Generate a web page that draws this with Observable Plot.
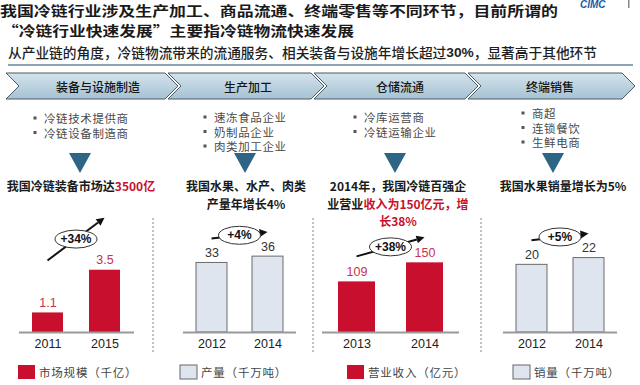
<!DOCTYPE html>
<html><head><meta charset="utf-8">
<script src="https://cdn.jsdelivr.net/npm/d3@7"></script>
<script src="https://cdn.jsdelivr.net/npm/@observablehq/plot@0.6"></script>
<style>
html,body{margin:0;padding:0;background:#fff;}
#root{position:relative;width:640px;height:385px;overflow:hidden;font-family:"Noto Sans CJK SC",sans-serif;}
.panel{position:absolute;}
</style></head>
<body><div id="root"></div>
<script>
// ---------- data ----------
const titleLines = ["我国冷链行业涉及生产加工、商品流通、终端零售等不同环节，目前所谓的", "“冷链行业快速发展”主要指冷链物流快速发展"];
const subtitleParts = [["从产业链的角度，冷链物流带来的流通服务、相关装备与设施年增长超过", 0], ["30%", 1], ["，显著高于其他环节", 0]];
const stages = ["装备与设施制造", "生产加工", "仓储流通", "终端销售"];
const stageBullets = [
  ["冷链技术提供商", "冷链设备制造商"],
  ["速冻食品企业", "奶制品企业", "肉类加工企业"],
  ["冷库运营商", "冷链运输企业"],
  ["商超", "连锁餐饮", "生鲜电商"]
];
const statementLines = [
  [[["我国冷链装备市场达", 0], ["3500亿", 1]]],
  [[["我国水果、水产、肉类", 0]], [["产量年增长4%", 0]]],
  [[["2014年，我国冷链百强企", 0]], [["业营业", 0], ["收入为150亿元，增", 1]], [["长38%", 1]]],
  [[["我国水果销量增长为5%", 0]]]
];
const years1 = ["2011", "2015"];
const values1 = [1.1, 3.5];
const years2 = ["2012", "2014"];
const values2 = [33, 36];
const years3 = ["2013", "2014"];
const values3 = [109, 150];
const years4 = ["2012", "2014"];
const values4 = [20, 22];
const growthLabels = ["+34%", "+4%", "+38%", "+5%"];
const legendLabels = ["市场规模（千亿）", "产量（千万吨）", "营业收入（亿元）", "销量（千万吨）"];

// ---------- styles ----------
const RED = "#c8102e";
const LIGHT = "#dfe5ef";
const DARKBLUE = "#2d6586";
const CJK = "'Noto Sans CJK SC', sans-serif";
const LATIN = "'Liberation Sans', Arial, sans-serif";

const root = d3.select("#root");
const svg = root.append("svg").attr("width", 640).attr("height", 385)
  .style("position", "absolute").style("left", "0px").style("top", "0px");

const defs = svg.append("defs");
const grad = defs.append("linearGradient").attr("id", "chev").attr("x1", 0).attr("y1", 0).attr("x2", 0).attr("y2", 1);
grad.append("stop").attr("offset", "0%").attr("stop-color", "#d3e3ec");
grad.append("stop").attr("offset", "100%").attr("stop-color", "#a6c2d3");

// logo
svg.append("text").attr("x", 580).attr("y", 8).attr("font-family", LATIN).attr("font-weight", 700)
  .attr("font-style", "italic").attr("font-size", 10).attr("fill", "#1b5cab").text("CIMC");
svg.append("rect").attr("x", 628).attr("y", 0).attr("width", 1.5).attr("height", 8).attr("fill", "#888");

// title
const titleY = [10, 29.5];
const titleLen = [558, 352];
const titleX = [0, 2];
titleLines.forEach((t, i) => {
  svg.append("text").attr("x", titleX[i]).attr("y", titleY[i]).attr("dominant-baseline", "central")
    .attr("font-family", CJK).attr("font-weight", 700).attr("font-size", 13.5).attr("fill", "#1a1a1a")
    .attr("textLength", titleLen[i]).attr("lengthAdjust", "spacingAndGlyphs").text(t);
});

// subtitle
const sub = svg.append("text").attr("x", 8).attr("y", 52).attr("dominant-baseline", "central")
  .attr("font-family", CJK).attr("font-size", 13.5).attr("font-weight", 500).attr("fill", "#1e1e1e")
  .attr("textLength", 589).attr("lengthAdjust", "spacingAndGlyphs");
subtitleParts.forEach(([t, b]) => {
  const ts = sub.append("tspan").text(t);
  if (b) ts.attr("font-weight", 700).attr("font-family", LATIN);
});
svg.append("line").attr("x1", 8).attr("x2", 633).attr("y1", 65).attr("y2", 65)
  .attr("stroke", "#8ea3b2").attr("stroke-width", 2);

// chevrons
const chevL = [6, 168, 314, 468], chevR = [165, 311, 465, 622];
const headCx = [98, 248, 400, 550];
const y0 = 73, y1 = 99, ym = 86, dep = 13;
stages.forEach((s, i) => {
  const L = chevL[i], R = chevR[i];
  const pts = [[L, y0], [R, y0], [R + dep, ym], [R, y1], [L, y1], [L + dep, ym]];
  svg.append("polygon").attr("points", pts.map(p => p.join(",")).join(" "))
    .attr("fill", "url(#chev)").attr("stroke", "#4d5a63").attr("stroke-width", 1);
  svg.append("text").attr("x", headCx[i]).attr("y", ym).attr("text-anchor", "middle").attr("dominant-baseline", "central")
    .attr("font-family", CJK).attr("font-size", 12).attr("font-weight", 500).attr("fill", "#151515").text(s);
});

// bullets
const bulletX = [35, 205, 355, 523];
const bulletY0 = [118, 117, 117, 113];
stageBullets.forEach((list, i) => {
  list.forEach((t, j) => {
    const y = bulletY0[i] + j * 14.5;
    svg.append("rect").attr("x", bulletX[i] - 1.5).attr("y", y - 1.5).attr("width", 3).attr("height", 3).attr("fill", "#555");
    svg.append("text").attr("x", bulletX[i] + 9).attr("y", y).attr("dominant-baseline", "central")
      .attr("font-family", CJK).attr("font-size", 11.5).attr("letter-spacing", 0.6).attr("fill", "#4a4a4a").text(t);
  });
});

// triangles
const triCx = [80, 245, 395, 553];
triCx.forEach(cx => {
  svg.append("polygon").attr("points", `${cx - 11},153 ${cx + 11},153 ${cx},173`).attr("fill", DARKBLUE);
});

// statements
const stCx = [81, 246, 398, 563];
statementLines.forEach((lines, i) => {
  lines.forEach((parts, j) => {
    const t = svg.append("text").attr("x", stCx[i]).attr("y", 185 + j * 17.5).attr("text-anchor", "middle")
      .attr("dominant-baseline", "central").attr("font-family", CJK).attr("font-size", 12).attr("font-weight", 700)
      .attr("fill", "#1a1a1a");
    parts.forEach(([s, red]) => {
      const ts = t.append("tspan").text(s);
      if (red) ts.attr("fill", RED);
    });
  });
});

// dotted separators
[153, 313, 481].forEach(x => {
  svg.append("line").attr("x1", x).attr("x2", x).attr("y1", 218).attr("y2", 352)
    .attr("stroke", "#888").attr("stroke-width", 1).attr("stroke-dasharray", "2,2");
});

// legends
const legX = [18, 180, 347, 513];
const legFill = [RED, LIGHT, RED, LIGHT];
const legStroke = ["none", "#666", "none", "#666"];
legendLabels.forEach((t, i) => {
  svg.append("rect").attr("x", legX[i]).attr("y", 365).attr("width", 17).attr("height", 14)
    .attr("fill", legFill[i]).attr("stroke", legStroke[i]).attr("stroke-width", 1);
  svg.append("text").attr("x", legX[i] + 21).attr("y", 372).attr("dominant-baseline", "central")
    .attr("font-family", CJK).attr("font-size", 11.5).attr("letter-spacing", 0.8).attr("fill", "#444").text(t);
});

// ---------- Plot panels ----------
const panels = [
  {years: years1, values: values1, left: 19, width: 115, yMax: 7.7, fill: RED, stroke: "none", label: "#c8324f", lift: 52},
  {years: years2, values: values2, left: 183, width: 113, yMax: 65, fill: LIGHT, stroke: "#6a6a6a", label: "#333", lift: 24},
  {years: years3, values: values3, left: 322, width: 137, yMax: 295, fill: RED, stroke: "none", label: "#c8324f", lift: 25},
  {years: years4, values: values4, left: 503, width: 114, yMax: 40.5, fill: LIGHT, stroke: "#6a6a6a", label: "#333", lift: 24}
];
const PTOP = 195, PH = 160;

panels.forEach((p, i) => {
  const data = p.years.map((year, k) => ({year, value: p.values[k]}));
  const chart = Plot.plot({
    width: p.width, height: PH,
    marginTop: 0, marginBottom: 23, marginLeft: 0, marginRight: 0,
    style: {background: "transparent", overflow: "visible", fontFamily: LATIN, fontSize: "12.5px", color: "#222"},
    x: {domain: p.years, paddingInner: 0.45, paddingOuter: 0.22, label: null, tickSize: 0, tickPadding: 7},
    y: {domain: [0, p.yMax], axis: null},
    marks: [
      Plot.barY(data, {x: "year", y: "value", fill: p.fill, stroke: p.stroke, strokeWidth: 1}),
      Plot.ruleY([0], {stroke: "#9a9a9a", strokeWidth: 2}),
      Plot.text(data, {x: "year", y: "value", text: d => String(d.value), dy: -10, fill: p.label, fontSize: 12.5})
    ]
  });
  const xs = chart.scale("x"), ys = chart.scale("y");
  const bw = xs.bandwidth;
  const cx = k => xs.apply(k) + bw / 2;
  const a = [cx(p.years[0]), ys.apply(p.values[0]) - p.lift];
  const b = [cx(p.years[1]), ys.apply(p.values[1]) - p.lift];
  const ang = Math.atan2(b[1] - a[1], b[0] - a[0]);
  const hl = 8, hw = 4;
  const base = [b[0] - hl * Math.cos(ang), b[1] - hl * Math.sin(ang)];
  const g = d3.select(chart).append("g");
  g.append("line").attr("x1", a[0]).attr("y1", a[1]).attr("x2", base[0]).attr("y2", base[1])
    .attr("stroke", "#111").attr("stroke-width", 2);
  const nx = -Math.sin(ang), ny = Math.cos(ang);
  g.append("polygon").attr("points", [
    b, [base[0] + nx * hw, base[1] + ny * hw], [base[0] - nx * hw, base[1] - ny * hw]
  ].map(q => q.join(",")).join(" ")).attr("fill", "#111");
  const mx = (a[0] + b[0]) / 2, my = (a[1] + b[1]) / 2;
  g.append("ellipse").attr("cx", mx).attr("cy", my).attr("rx", 21).attr("ry", 9)
    .attr("fill", "#fff").attr("stroke", "#333").attr("stroke-width", 1);
  g.append("text").attr("x", mx).attr("y", my).attr("text-anchor", "middle").attr("dominant-baseline", "central")
    .attr("font-family", LATIN).attr("font-weight", 700).attr("font-size", 12).attr("fill", "#111").text(growthLabels[i]);

  const div = root.append("div").attr("class", "panel")
    .style("left", p.left + "px").style("top", PTOP + "px").style("width", p.width + "px").style("height", PH + "px");
  div.node().appendChild(chart);
});
</script>
</body></html>
